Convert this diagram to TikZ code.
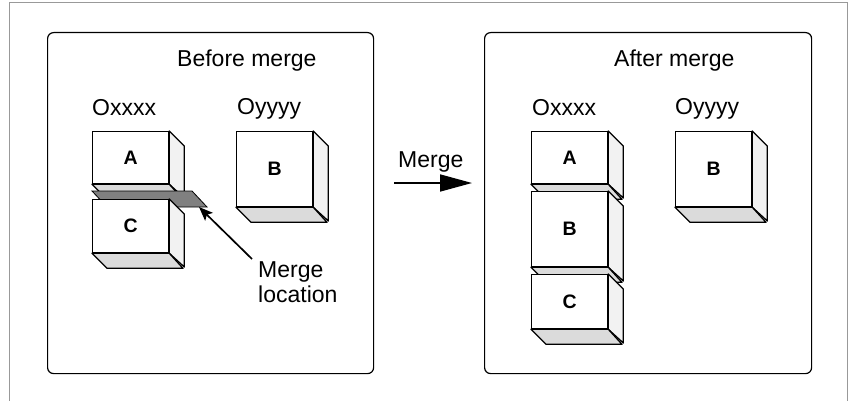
\documentclass[tikz,border=0pt]{standalone}
\usepackage{fontspec}
\setmainfont{Liberation Sans}
\usetikzlibrary{arrows.meta}
\tikzset{
  txt/.style={inner sep=0pt, font=\fontsize{23}{25}\selectfont},
  panel/.style={draw, line width=1.2pt, rounded corners=6pt, inner sep=0pt, anchor=north west},
  front/.style={draw, fill=white, line width=1.3pt, inner sep=0pt, anchor=north west, font=\fontsize{19.5}{22}\selectfont\bfseries},
  rface/.style={draw, fill=black!5, line width=1.3pt, line join=round},
  bface/.style={draw, fill=black!14, line width=1.3pt, line join=round},
  band/.style={draw, fill=black!50, line width=0.8pt},
  conn/.style={line width=1.7pt},
}
\newcommand\cubebox[6]{%
  \node[front, minimum width=#4pt, minimum height=#5pt] (#1) at (#2,#3) {#6};
  \draw[rface] (#1.north east) -- ++(15,15) -- ++(0,#5) -- (#1.south east) -- cycle;
  \draw[bface] (#1.south west) -- ++(15,15) -- ++(#4,0) -- (#1.south east) -- cycle;
}
\begin{document}
\begin{tikzpicture}[x=1pt,y=-1pt]
\useasboundingbox (0,0) rectangle (848,401);
\draw[black!40, line width=1pt] (9,2.5) rectangle (847,430);
% panels
\node[panel, minimum width=326pt, minimum height=341pt] (lp) at (47,32) {};
\node[panel, minimum width=327pt, minimum height=341pt] (rp) at (484,32) {};
% titles
\node[txt, anchor=base west] (bm) at (177,67) {Before merge};
\node[txt, anchor=base west] (am) at (614,67) {After merge};
\node[txt, anchor=base west] (lx) at (92,116) {Oxxxx};
\node[txt, anchor=base west] (ly) at (237,115) {Oyyyy};
\node[txt, anchor=base west] (rx) at (532,116) {Oxxxx};
\node[txt, anchor=base west] (ry) at (675,115) {Oyyyy};
% left panel boxes
\cubebox{la}{92}{131}{76}{52}{A}
\draw[band] (92,191) -- (192,191) -- (207,207) -- (107,207) -- cycle;
\coordinate (bt) at (199,207);
\cubebox{lc}{92}{199}{76}{53}{C}
\cubebox{lb}{236}{131}{76}{75}{B}
% merge location
\node[txt, anchor=north west, align=left] (ml) at (258,261) {Merge\\location};
\draw[conn, -{Stealth[length=14pt,width=11pt,inset=3pt]}] ([shift={(-6,-2)}]ml.north west) -- (bt);
% middle arrow
\node[txt, anchor=base west] (mg) at (398,167) {Merge};
\coordinate (ma) at (394,183);
\coordinate (mb) at (472,183);
\draw[conn, -{Triangle[length=32pt,width=17pt]}] (ma) -- (mb);
% right panel boxes
\cubebox{ra}{531}{131}{76}{52}{A}
\cubebox{rb}{531}{191}{76}{75}{B}
\cubebox{rc}{531}{274}{76}{54}{C}
\cubebox{rb2}{675}{131}{76}{75}{B}
\end{tikzpicture}
\end{document}
